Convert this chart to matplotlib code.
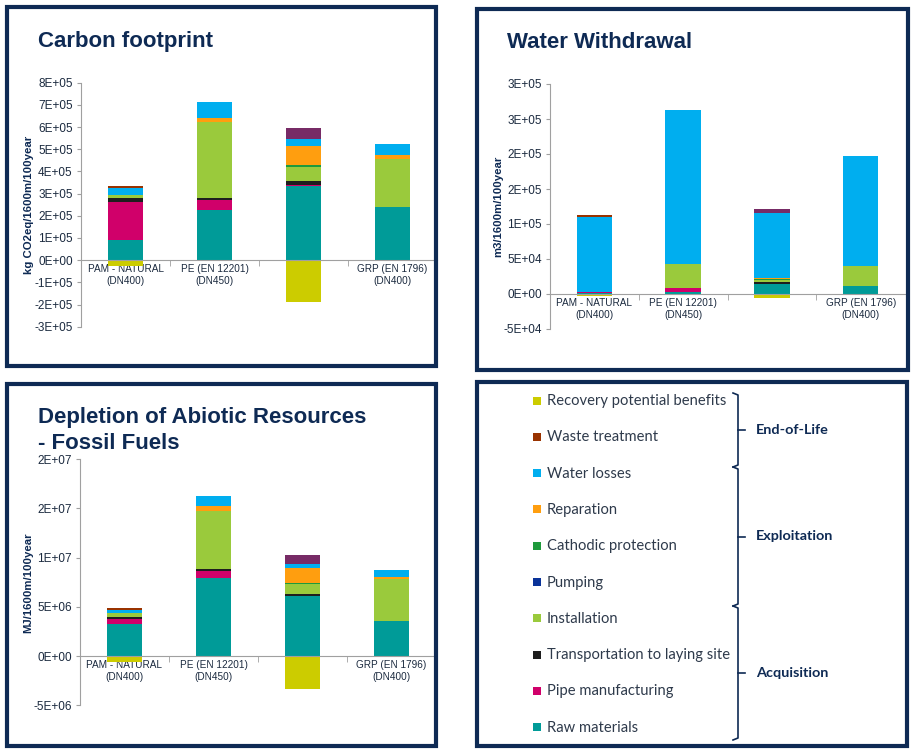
"""
Life-cycle impact dashboard: carbon footprint, water withdrawal and
fossil-fuel depletion per pipe type, plus a shared stage legend.
"""

import matplotlib
matplotlib.use('Agg')  # no display
import matplotlib.pyplot as plt
from matplotlib.patches import Rectangle
import numpy as np

# ---------------------------------------------------------------- data
categories = ['PAM - NATURAL\n(DN400)', 'PE (EN 12201)\n(DN450)', '',
              'GRP (EN 1796)\n(DN400)']

# stacking order, bottom to top (recovery goes below zero)
stages = ['Raw materials', 'Pipe manufacturing', 'Transportation to laying site',
          'Installation', 'Pumping', 'Cathodic protection', 'Reparation',
          'Water losses', 'Waste treatment', 'Recovery potential benefits']

carbon = {
    'Raw materials':                 [0.90e5, 2.26e5, 3.35e5, 2.40e5],
    'Pipe manufacturing':            [1.73e5, 0.45e5, 0.05e5, 0],
    'Transportation to laying site': [0.17e5, 0.10e5, 0.15e5, 0],
    'Installation':                  [0.13e5, 3.43e5, 0.63e5, 2.14e5],
    'Pumping':                       [0, 0, 0, 0],
    'Cathodic protection':           [0, 0, 0.12e5, 0],
    'Reparation':                    [0, 0.18e5, 0.86e5, 0.20e5],
    'Water losses':                  [0.33e5, 0.71e5, 0.32e5, 0.50e5],
    'Waste treatment':               [0.08e5, 0, 0.48e5, 0],
    'Recovery potential benefits':   [-0.27e5, 0, -1.88e5, 0],
}
carbon_ticks = [-3e5, -2e5, -1e5, 0, 1e5, 2e5, 3e5, 4e5, 5e5, 6e5, 7e5, 8e5]
carbon_ticklabels = ['-3E+05', '-2E+05', '-1E+05', '0E+00', '1E+05', '2E+05',
                     '3E+05', '4E+05', '5E+05', '6E+05', '7E+05', '8E+05']

water = {
    'Raw materials':                 [0.10e4, 0.33e4, 1.45e4, 1.19e4],
    'Pipe manufacturing':            [0.25e4, 0.57e4, 0, 0],
    'Transportation to laying site': [0, 0, 0.20e4, 0],
    'Installation':                  [0, 3.40e4, 0.35e4, 2.76e4],
    'Pumping':                       [0, 0, 0, 0],
    'Cathodic protection':           [0, 0, 0.15e4, 0],
    'Reparation':                    [0, 0, 0.10e4, 0],
    'Water losses':                  [10.72e4, 22.05e4, 9.30e4, 15.75e4],
    'Waste treatment':               [0.24e4, 0, 0.62e4, 0],
    'Recovery potential benefits':   [-0.24e4, 0, -0.52e4, 0],
}
water_ticks = [-5e4, 0, 5e4, 1e5, 1.5e5, 2e5, 2.5e5, 3e5]
water_ticklabels = ['-5E+04', '0E+00', '5E+04', '1E+05', '2E+05', '2E+05',
                    '3E+05', '3E+05']

fossil = {
    'Raw materials':                 [3.25e6, 7.97e6, 6.14e6, 3.56e6],
    'Pipe manufacturing':            [0.47e6, 0.71e6, 0, 0],
    'Transportation to laying site': [0.27e6, 0.14e6, 0.20e6, 0],
    'Installation':                  [0.34e6, 5.97e6, 0.95e6, 4.24e6],
    'Pumping':                       [0, 0, 0, 0],
    'Cathodic protection':           [0, 0, 0.17e6, 0],
    'Reparation':                    [0, 0.51e6, 1.46e6, 0.27e6],
    'Water losses':                  [0.34e6, 0.98e6, 0.44e6, 0.68e6],
    'Waste treatment':               [0.20e6, 0, 0.92e6, 0],
    'Recovery potential benefits':   [-0.58e6, 0, -3.32e6, 0],
}
fossil_ticks = [-5e6, 0, 5e6, 1e7, 1.5e7, 2e7]
fossil_ticklabels = ['-5E+06', '0E+00', '5E+06', '1E+07', '2E+07', '2E+07']

# legend listing, top to bottom, and the life-cycle groups
legend_order = ['Recovery potential benefits', 'Waste treatment', 'Water losses',
                'Reparation', 'Cathodic protection', 'Pumping', 'Installation',
                'Transportation to laying site', 'Pipe manufacturing',
                'Raw materials']
groups = ['End-of-Life', 'Exploitation', 'Acquisition']

# ---------------------------------------------------------------- style
W, H = 915, 756
NAVY = '#0E2A54'
TEXT = '#1B2A3F'
AXIS = '#A0A0A0'

colors = {
    'Recovery potential benefits': '#CCCC00',
    'Waste treatment': '#993300',
    'Water losses': '#00AEEF',
    'Reparation': '#FF9E0F',
    'Cathodic protection': '#1E9A3C',
    'Pumping': '#0A3399',
    'Installation': '#9ACA3C',
    'Transportation to laying site': '#1E1E1E',
    'Pipe manufacturing': '#D0006A',
    'Raw materials': '#009B98',
}
# the third bar's waste segment is drawn in purple in the source
waste_bar_colors = ['#993300', '#993300', '#772B66', '#993300']

plt.rcParams['font.family'] = ['Liberation Sans', 'DejaVu Sans']

fig = plt.figure(figsize=(W / 100, H / 100), dpi=100)
fig.patch.set_facecolor('white')


def px_axes(left, top, right, bottom):
    return fig.add_axes([left / W, 1 - bottom / H,
                         (right - left) / W, (bottom - top) / H])


def stacked_chart(ax, data, ticks, ticklabels, ylabel):
    x = np.arange(len(categories))
    base = np.zeros(len(categories))
    for stage in stages[:-1]:
        vals = np.array(data[stage], dtype=float)
        col = waste_bar_colors if stage == 'Waste treatment' else colors[stage]
        ax.bar(x, vals, 0.4, bottom=base, color=col, linewidth=0, zorder=2)
        base += vals
    rec = 'Recovery potential benefits'
    ax.bar(x, data[rec], 0.4, color=colors[rec], linewidth=0, zorder=2)

    ax.set_xlim(-0.5, 3.5)
    ax.set_ylim(ticks[0], ticks[-1])
    ax.set_yticks(ticks)
    ax.set_yticklabels(ticklabels)
    ax.set_xticks(x)
    ax.set_xticklabels(categories)
    ax.set_xticks(x[:-1] + 0.5, minor=True)

    for s in ['top', 'right']:
        ax.spines[s].set_visible(False)
    ax.spines['bottom'].set_position(('data', 0))
    for s in ['left', 'bottom']:
        ax.spines[s].set_color(AXIS)
        ax.spines[s].set_linewidth(0.8)
    ax.tick_params(axis='y', length=3, color=AXIS, labelsize=8.5,
                   labelcolor=TEXT, pad=3)
    ax.tick_params(axis='x', which='major', length=0, labelsize=7.2,
                   labelcolor=TEXT, pad=3)
    ax.tick_params(axis='x', which='minor', length=4, color=AXIS)
    for lab in ax.get_xticklabels():
        lab.set_linespacing(1.2)
    ax.set_ylabel(ylabel, fontsize=8.2, fontweight='bold', color=NAVY)
    ax.yaxis.set_label_coords(-0.132, 0.5)
    ax.patch.set_alpha(0)


ax1 = px_axes(81, 82.7, 437, 326.7)
stacked_chart(ax1, carbon, carbon_ticks, carbon_ticklabels,
              'kg CO2eq/1600m/100year')
ax2 = px_axes(550, 84, 905, 329)
stacked_chart(ax2, water, water_ticks, water_ticklabels, 'm3/1600m/100year')
ax3 = px_axes(80, 459.3, 436, 705.3)
stacked_chart(ax3, fossil, fossil_ticks, fossil_ticklabels, 'MJ/1600m/100year')

# overlay in pixel coordinates: titles, borders, legend panel
ov = fig.add_axes([0, 0, 1, 1])
ov.set_xlim(0, W)
ov.set_ylim(H, 0)
ov.axis('off')
ov.patch.set_alpha(0)

title_kw = dict(fontsize=16, fontweight='bold', color=NAVY, va='baseline')
ov.text(38, 47, 'Carbon footprint', **title_kw)
ov.text(507, 48, 'Water Withdrawal', **title_kw)
ov.text(38, 423, 'Depletion of Abiotic Resources', **title_kw)
ov.text(38, 449, '- Fossil Fuels', **title_kw)

for (l, t, r, b) in [(7, 7, 436, 366), (477, 9, 908, 370),
                     (7, 384, 436, 746), (477, 382, 907, 746)]:
    ov.add_patch(Rectangle((l, t), r - l, b - t, fill=False,
                           edgecolor=NAVY, linewidth=3))

# legend entries
y0, dy = 401, 36.3
for i, stage in enumerate(legend_order):
    y = y0 + i * dy
    ov.add_patch(Rectangle((533, y - 4.5), 8, 8, color=colors[stage],
                           linewidth=0))
    ov.text(547, y, stage, fontsize=10.6, color='#2E3A4B', va='center',
            family=['Lato', 'DejaVu Sans'])

# braces grouping the stages
bx = 738
edges = [393, 467, 606, 740]
for g, name in enumerate(groups):
    top, bot = edges[g], edges[g + 1]
    mid = (top + bot) / 2
    ov.plot([bx - 5, bx, bx, bx - 5], [top, top + 2, bot - 2, bot],
            color=NAVY, lw=1.2, solid_joinstyle='round')
    ov.plot([bx, bx + 7], [mid, mid], color=NAVY, lw=1.2)
    ov.text(756, mid, name, fontsize=10.4, fontweight='bold', color=NAVY,
            va='center', family=['Lato', 'DejaVu Sans'])

fig.savefig('out.png', dpi=100, facecolor='white')
plt.close(fig)
